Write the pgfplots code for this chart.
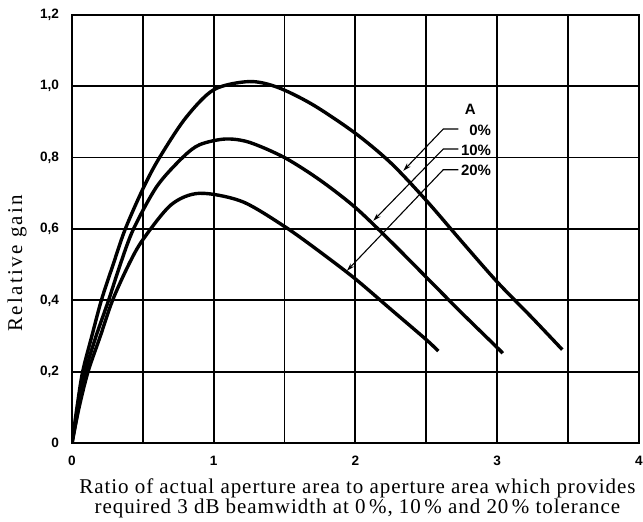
\documentclass[border=0pt]{standalone}
\usepackage{fontspec}
\setmainfont{Liberation Serif}
\setsansfont{Liberation Sans}
\usepackage{pgfplots}
\pgfplotsset{compat=1.18}
\usetikzlibrary{arrows.meta}

\begin{document}
\begin{tikzpicture}
\path[use as bounding box] (-36pt,-39.4pt) rectangle (285.5pt,221.6pt);
\begin{axis}[
  at={(0,0)}, anchor=south west,
  scale only axis, width=283.4pt, height=214.2pt,
  xmin=0, xmax=4, ymin=0, ymax=1.2,
  xtick={0,1,2,3,4}, minor xtick={0.5,1.5,2.5,3.5},
  xticklabels={0,1,2,3,4},
  ytick={0,0.2,0.4,0.6,0.8,1.0,1.2},
  yticklabels={0,{0,2},{0,4},{0,6},{0,8},{1,0},{1,2}},
  grid=both,
  major grid style={black, line width=0.9pt},
  minor grid style={black, line width=0.9pt},
  axis line style={black, line width=1.1pt},
  major tick length=0pt, minor tick length=0pt,
  /pgf/number format/assume math mode=true,
  tick label style={font=\sffamily\bfseries\fontsize{6.8}{7}\selectfont},
  yticklabel style={xshift=-3pt},
  xticklabel style={yshift=-3pt},
  xlabel={Ratio of actual aperture area to aperture area which provides\\required 3 dB beamwidth at 0\,\%, 10\,\% and 20\,\% tolerance},
  xlabel style={align=center, font=\addfontfeatures{LetterSpace=4.5}\fontsize{10.5}{10}\selectfont,
    at={(axis description cs:0.5035,0)}, anchor=north, yshift=-14pt},
  ylabel={Relative gain},
  ylabel style={font=\addfontfeatures{LetterSpace=11}\fontsize{10.5}{12}\selectfont,
    at={(axis description cs:-0.097,0.42)}, anchor=center},
]
% 0 % tolerance
\addplot[black, line width=1.7pt, smooth, tension=0.5] coordinates {
 (0,0) (0.035,0.1) (0.075,0.2) (0.14,0.3) (0.207,0.4) (0.29,0.5) (0.376,0.6)
 (0.5,0.712) (0.61,0.795) (0.8,0.91) (1.0,0.99) (1.25,1.013) (1.45,0.997)
 (1.7,0.948) (2.0,0.868) (2.25,0.785) (2.5,0.68) (2.75,0.565) (3.0,0.452)
 (3.25,0.35) (3.46,0.262)};
% 10 % tolerance
\addplot[black, line width=1.7pt, smooth, tension=0.5] coordinates {
 (0,0) (0.045,0.1) (0.094,0.2) (0.17,0.3) (0.258,0.4) (0.34,0.5) (0.434,0.6)
 (0.6,0.72) (0.78,0.8) (0.9,0.836) (1.08,0.852) (1.25,0.843) (1.5,0.80)
 (1.75,0.737) (2.0,0.66) (2.25,0.565) (2.5,0.465) (2.75,0.365) (3.0,0.268)
 (3.04,0.252)};
% 20 % tolerance
\addplot[black, line width=1.7pt, smooth, tension=0.5] coordinates {
 (0,0) (0.05,0.1) (0.113,0.2) (0.2,0.3) (0.286,0.4) (0.4,0.5) (0.5,0.57)
 (0.7,0.668) (0.9,0.70) (1.2,0.677) (1.5,0.607) (1.75,0.536) (2.0,0.46)
 (2.25,0.375) (2.5,0.29) (2.585,0.258)};
% leaders
\draw[black, line width=0.55pt, -{Stealth[length=4pt,width=2.4pt]}]
  (axis cs:2.726,0.880) -- (axis cs:2.62,0.880) -- (axis cs:2.338,0.763);
\draw[black, line width=0.55pt, -{Stealth[length=4pt,width=2.4pt]}]
  (axis cs:2.726,0.824) -- (axis cs:2.62,0.824) -- (axis cs:2.126,0.623);
\draw[black, line width=0.55pt, -{Stealth[length=4pt,width=2.4pt]}]
  (axis cs:2.726,0.766) -- (axis cs:2.62,0.766) -- (axis cs:1.94,0.483);
\node[font=\sffamily\bfseries\fontsize{7.5}{8}\selectfont] at (axis cs:2.81,0.934) {A};
\node[anchor=east, inner sep=0pt, font=\sffamily\bfseries\fontsize{7.5}{8}\selectfont] at (axis cs:2.96,0.876) {0\%};
\node[anchor=east, inner sep=0pt, font=\sffamily\bfseries\fontsize{7.5}{8}\selectfont] at (axis cs:2.96,0.820) {10\%};
\node[anchor=east, inner sep=0pt, font=\sffamily\bfseries\fontsize{7.5}{8}\selectfont] at (axis cs:2.96,0.764) {20\%};
\end{axis}
\end{tikzpicture}
\end{document}
